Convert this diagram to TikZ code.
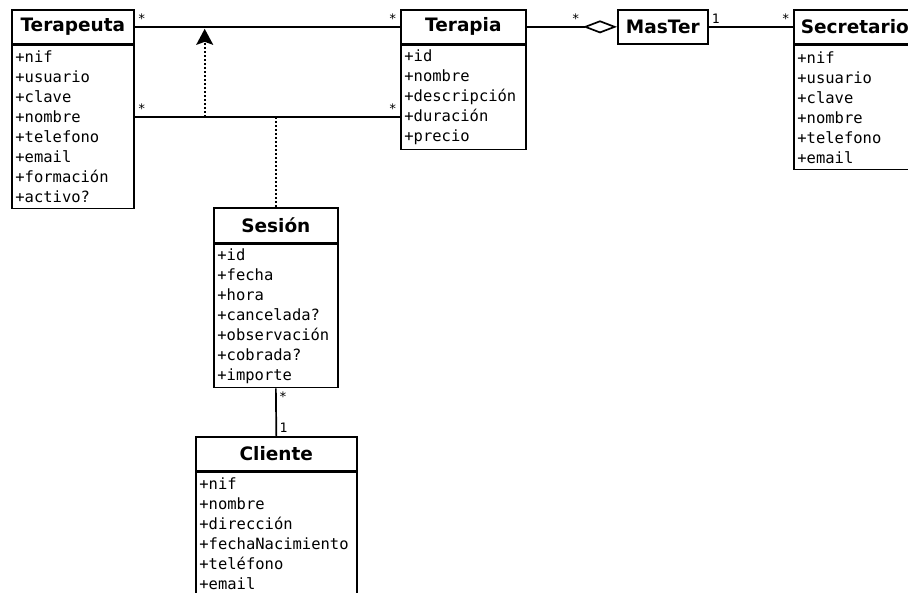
\documentclass[tikz,border=0pt]{standalone}
\usepackage{fontspec}
\newfontfamily\umlsans{DejaVu Sans}
\newfontfamily\umlmono{DejaVu Sans Mono}
\usetikzlibrary{arrows.meta,positioning,calc}

\begin{document}
\begin{tikzpicture}[x=1pt,y=1pt,
  classname/.style={draw,line width=1.7pt,anchor=north west,inner sep=0pt,minimum height=34pt,
    font=\umlsans\bfseries\fontsize{18.5}{20}\selectfont},
  classattr/.style={draw,line width=1.7pt,anchor=north west,inner xsep=3.5pt,inner ysep=0pt,align=left,
    font=\umlmono\fontsize{15.5}{20}\selectfont},
  assoc/.style={line width=1.7pt},
  dep/.style={line width=1.7pt,dash pattern=on 2pt off 2pt},
  mult/.style={inner sep=3pt,font=\umlmono\fontsize{13}{13}\selectfont}]
\useasboundingbox (0,0) rectangle (908,-593);
\clip (0,0) rectangle (908,-593);

% classes
\node[classname,minimum width=122pt] (terapeuta) at (11,-9) {Terapeuta};
\node[classattr,text width=115pt,minimum height=163pt] (terapeutaAttr) at (terapeuta.south west)
  {+nif\\+usuario\\+clave\\+nombre\\+telefono\\+email\\+formación\\+activo?};
\node[classname,minimum width=125pt] (terapia) at (400,-9) {Terapia};
\node[classattr,text width=118pt,minimum height=104pt] (terapiaAttr) at (terapia.south west)
  {+id\\+nombre\\+descripción\\+duración\\+precio};
\node[classname,minimum width=90pt] (master) at (617,-9) {MasTer};
\node[classname,minimum width=122pt] (secretario) at (793,-9) {Secretario};
\node[classattr,text width=115pt,minimum height=124pt] (secretarioAttr) at (secretario.south west)
  {+nif\\+usuario\\+clave\\+nombre\\+telefono\\+email};
\node[classname,minimum width=124pt,minimum height=35pt] (sesion) at (213,-207) {Sesión};
\node[classattr,text width=117pt,minimum height=143pt] (sesionAttr) at (sesion.south west)
  {+id\\+fecha\\+hora\\+cancelada?\\+observación\\+cobrada?\\+importe};
\node[classname,minimum width=161pt] (cliente) at (195,-436) {Cliente};
\node[classattr,text width=154pt,minimum height=122pt] (clienteAttr) at (cliente.south west)
  {+nif\\+nombre\\+dirección\\+fechaNacimiento\\+teléfono\\+email};

% associations
\coordinate (assocL) at ($(terapeutaAttr.north east)+(0,-72)$);
\coordinate (assocR) at (assocL -| terapiaAttr.west);
\coordinate (assocDep) at ($(assocL)+(70,0)$);
\draw[assoc] (terapeuta.east) -- (terapia.west);
\draw[assoc] (assocL) -- (assocR);
\draw[dep,-{Stealth[length=16pt,width=17pt,inset=3pt]}] (assocDep) -- ($(assocDep |- terapeuta.east)+(0,-2)$);
\draw[dep] (sesion.north) -- (sesion.north |- assocL);
\draw[assoc,-{Diamond[open,length=34pt,width=13pt]}] (terapia.east) -- (master.west);
\draw[assoc] (master.east) -- (secretario.west);
\draw[assoc] (sesionAttr.south) -- (cliente.north);

% multiplicities
\node[mult,anchor=south west] (m1) at (terapeuta.east) {*};
\node[mult,anchor=south east] (m2) at (terapia.west) {*};
\node[mult,anchor=south west] (m3) at (assocL) {*};
\node[mult,anchor=south east] (m4) at (assocR) {*};
\node[mult,above left=0pt and 34pt of master.west] (m5) {*};
\node[mult,anchor=south west] (m6) at (master.east) {1};
\node[mult,anchor=south east] (m7) at (secretario.west) {*};
\node[mult,anchor=north west] (m8) at (sesionAttr.south) {*};
\node[mult,anchor=south west] (m9) at (cliente.north) {1};
\end{tikzpicture}
\end{document}
